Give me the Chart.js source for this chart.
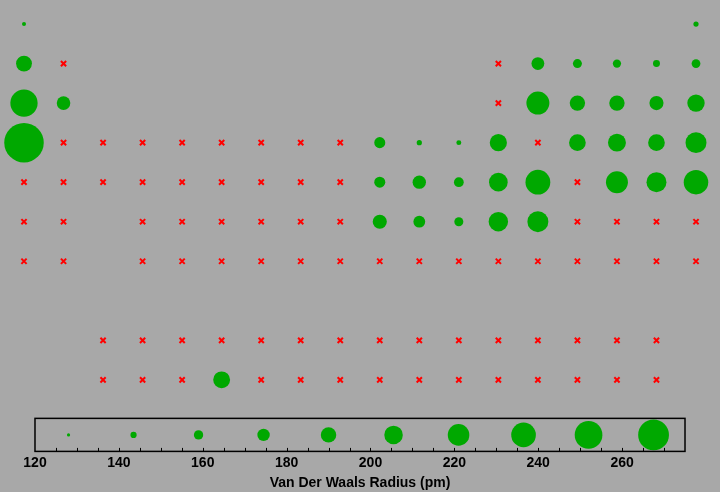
<!DOCTYPE html>
<html>
<head>
<meta charset="utf-8">
<script src="https://cdn.jsdelivr.net/npm/chart.js@4/dist/chart.umd.min.js"></script>
<style>
  html, body { margin: 0; padding: 0; background: #a8a8a8; }
  #wrap { width: 720px; height: 492px; position: relative; }
</style>
</head>
<body>
<div id="wrap"><canvas id="vdw-chart"></canvas></div>
<script>
// periodic table layout, '' = empty cell
const tableRows = [
  ['H','','','','','','','','','','','','','','','','','He'],
  ['Li','Be','','','','','','','','','','','B','C','N','O','F','Ne'],
  ['Na','Mg','','','','','','','','','','','Al','Si','P','S','Cl','Ar'],
  ['K','Ca','Sc','Ti','V','Cr','Mn','Fe','Co','Ni','Cu','Zn','Ga','Ge','As','Se','Br','Kr'],
  ['Rb','Sr','Y','Zr','Nb','Mo','Tc','Ru','Rh','Pd','Ag','Cd','In','Sn','Sb','Te','I','Xe'],
  ['Cs','Ba','','Hf','Ta','W','Re','Os','Ir','Pt','Au','Hg','Tl','Pb','Bi','Po','At','Rn'],
  ['Fr','Ra','','Rf','Db','Sg','Bh','Hs','Mt','Ds','Rg','Cn','Nh','Fl','Mc','Lv','Ts','Og'],
  [],
  ['','','La','Ce','Pr','Nd','Pm','Sm','Eu','Gd','Tb','Dy','Ho','Er','Tm','Yb','Lu',''],
  ['','','Ac','Th','Pa','U','Np','Pu','Am','Cm','Bk','Cf','Es','Fm','Md','No','Lr','']
];

// elements with a known Van der Waals radius (pm)
const vdwSymbols = ['H','He','Li','C','N','O','F','Ne','Na','Mg','Si','P','S','Cl','Ar',
  'K','Ni','Cu','Zn','Ga','As','Se','Br','Kr','Pd','Ag','Cd','In','Sn','Te','I','Xe',
  'Pt','Au','Hg','Tl','Pb','U'];
const vdwRadii = [120,140,182,170,155,152,147,154,227,173,210,180,180,175,188,
  275,163,140,139,187,185,190,185,202,163,172,158,193,217,206,198,216,
  175,166,155,196,202,186];

// size key along the axis
const legendValues = [128,143.5,159,174.5,190,205.5,221,236.5,252,267.5];
const xTicks = [120,140,160,180,200,220,240,260];
const keyMin = 120, keyMax = 275;

const green = 'rgb(0,168,0)';
const axisFont = { family: '"Liberation Sans", Arial, sans-serif', size: 14, weight: 'bold' };

function tableSize(v) { return Math.max(2, 0.127 * (v - 119.5)); }
function keySize(v) { return Math.max(1.5, 0.099 * (v - 112)); }

let known = [];
let missing = [];
tableRows.forEach((row, i) => {
  row.forEach((sym, j) => {
    if (!sym) return;
    let k = vdwSymbols.indexOf(sym);
    if (k >= 0) {
      known.push({ x: j + 1, y: i + 1, r: tableSize(vdwRadii[k]) });
    } else {
      missing.push({ x: j + 1, y: i + 1 });
    }
  });
});

let keyPoints = legendValues.map(v => ({ x: v, y: 0, r: keySize(v) }));

// frame round the key strip, with small inward ticks every 5 pm
const framePlugin = {
  id: 'frame',
  afterDatasetsDraw(chart) {
    const ctx = chart.ctx;
    const xs = chart.scales.x, ys = chart.scales.yl;
    let left = xs.getPixelForValue(keyMin), right = xs.getPixelForValue(keyMax);
    let top = ys.getPixelForValue(1), bottom = ys.getPixelForValue(-1);
    ctx.save();
    ctx.strokeStyle = '#000';
    ctx.lineWidth = 1.5;
    ctx.strokeRect(left, top, right - left, bottom - top);
    ctx.lineWidth = 1;
    ctx.beginPath();
    for (let v = keyMin + 5; v < keyMax; v += 5) {
      let px = Math.round(xs.getPixelForValue(v)) + 0.5;
      ctx.moveTo(px, bottom);
      ctx.lineTo(px, bottom - 3.5);
    }
    ctx.stroke();
    ctx.restore();
  }
};

let ctx = document.getElementById('vdw-chart').getContext('2d');
let vdwChart = new Chart(ctx, {
  type: 'bubble',
  data: {
    datasets: [
      { label: 'radius', data: known, xAxisID: 'xt', yAxisID: 'yt',
        backgroundColor: green, borderWidth: 0, clip: false },
      { type: 'scatter', label: 'no data', data: missing, xAxisID: 'xt', yAxisID: 'yt',
        pointStyle: 'crossRot', pointRadius: 3.7, borderColor: '#ff0000',
        backgroundColor: '#ff0000', borderWidth: 2, clip: false },
      { label: 'key', data: keyPoints, xAxisID: 'x', yAxisID: 'yl',
        backgroundColor: green, borderWidth: 0 }
    ]
  },
  options: {
    responsive: true,
    maintainAspectRatio: false,
    animation: false,
    events: [],
    layout: { autoPadding: false, padding: { left: 0, right: 0, top: 0, bottom: 0 } },
    plugins: { legend: { display: false }, tooltip: { enabled: false } },
    scales: {
      x: {
        type: 'linear', position: 'bottom', min: 111.655, max: 283.345,
        afterBuildTicks: s => { s.ticks = xTicks.map(v => ({ value: v })); },
        grid: { display: false, drawTicks: false },
        border: { display: false },
        ticks: { font: axisFont, color: '#000', padding: 3, maxRotation: 0, autoSkip: false },
        title: { display: true, text: 'Van Der Waals Radius (pm)', font: axisFont,
                 color: '#000', padding: { top: 1, bottom: 0 } }
      },
      xt: { type: 'linear', display: false, min: 0.3929, max: 18.607 },
      yt: { type: 'linear', display: false, reverse: true, min: 0.392, max: 11.81 },
      yl: { type: 'linear', display: false, min: -1, max: 26.33 }
    }
  },
  plugins: [framePlugin]
});
</script>
</body>
</html>
